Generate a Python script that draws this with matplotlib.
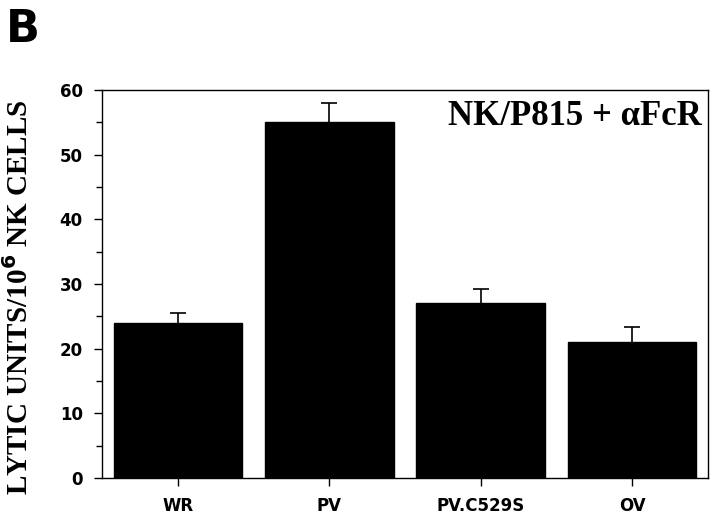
import matplotlib
matplotlib.use("Agg")
import matplotlib.pyplot as plt
from matplotlib.ticker import MultipleLocator

# Lytic units per 10^6 NK cells, NK/P815 + anti-FcR
groups = ["WR", "PV", "PV.C529S", "OV"]
lytic_units = [24, 55, 27, 21]
errors = [1.5, 3.0, 2.3, 2.4]

fig = plt.figure(figsize=[7.2, 5.15], dpi=100)
ax = fig.add_axes([0.142, 0.072, 0.841, 0.753])

x = range(len(groups))
ax.bar(x, lytic_units, width=0.85, color="black", edgecolor="black")
_, caps, _ = ax.errorbar(
    x, lytic_units,
    yerr=[[0] * len(errors), errors],
    fmt="none", ecolor="black", elinewidth=1.2, capsize=6, capthick=1.2,
)
# only the upper cap is visible in the original
caps[0].set_visible(False)

ax.set_xlim(-0.5, 3.5)
ax.set_ylim(0, 60)
ax.yaxis.set_major_locator(MultipleLocator(10))
ax.yaxis.set_minor_locator(MultipleLocator(5))
ax.set_xticks(list(x))
ax.set_xticklabels(groups, fontfamily="DejaVu Sans", fontweight="bold", fontsize=12)
for lab in ax.get_yticklabels():
    lab.set_fontweight("bold")
    lab.set_fontsize(12)
ax.tick_params(axis="both", which="major", direction="out", length=6, width=1, pad=8)
ax.tick_params(axis="y", which="minor", direction="out", length=4, width=1)
for s in ax.spines.values():
    s.set_linewidth(1)

ax.set_ylabel(
    r"LYTIC UNITS/10$^{\mathbf{6}}$ NK CELLS",
    fontfamily="Liberation Serif", fontweight="bold", fontsize=21,
)
ax.yaxis.set_label_coords(-0.112, 0.465)
ax.text(
    0.99, 0.975, "NK/P815 + \u03b1FcR",
    transform=ax.transAxes, ha="right", va="top",
    fontfamily="Liberation Serif", fontweight="bold", fontsize=25,
)

fig.text(0.008, 0.985, "B", ha="left", va="top",
         fontfamily="DejaVu Sans", fontweight="bold", fontsize=32)

fig.savefig("out.png", dpi=100)
